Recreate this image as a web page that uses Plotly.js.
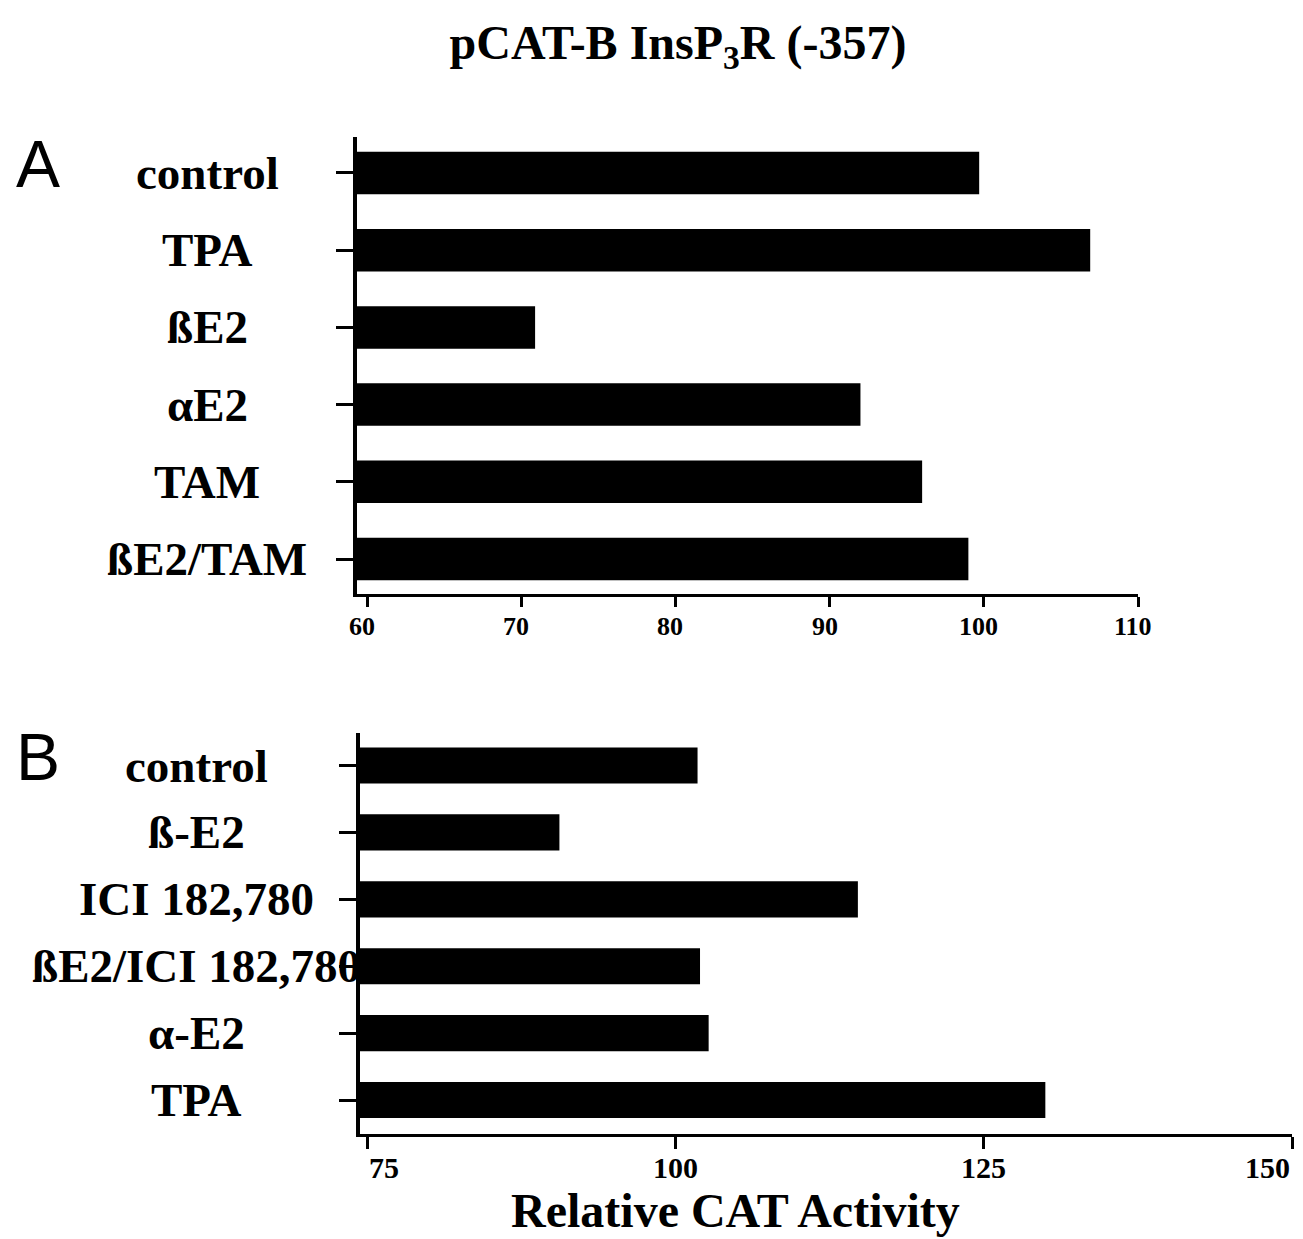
<!DOCTYPE html>
<html>
<head>
<meta charset="utf-8">
<script src="https://cdn.plot.ly/plotly-3.0.1.min.js"></script>
<style>
  html, body { margin: 0; padding: 0; background: #fff; }
  #chart { width: 1303px; height: 1239px; }
</style>
</head>
<body>
<div id="chart"></div>
<script>
// Panel A data
const catsA = ['control', 'TPA', 'ßE2', 'αE2', 'TAM', 'ßE2/TAM'];
const valsA = [99.7, 106.9, 70.9, 92.0, 96.0, 99.0];
const ticksA = [60, 70, 80, 90, 100, 110];

// Panel B data
const catsB = ['control', 'ß-E2', 'ICI 182,780', 'ßE2/ICI 182,780', 'α-E2', 'TPA'];
const valsB = [101.8, 90.6, 114.8, 102.0, 102.7, 130.0];
const ticksB = [75, 100, 125, 150];

const titleText = 'pCAT-B InsP<sub>3</sub>R (-357)';
const xTitleText = 'Relative CAT Activity';

const W = 1303, H = 1239;
const px = x => x / W;
const py = y => 1 - y / H;

const serif = 'Liberation Serif, Times New Roman, serif';
const sans = 'Liberation Sans, Arial, sans-serif';

const traces = [
  {
    type: 'bar', orientation: 'h',
    y: catsA, x: valsA,
    xaxis: 'x', yaxis: 'y',
    width: 0.55,
    marker: { color: '#000', line: { width: 0 } },
    hoverinfo: 'skip'
  },
  {
    type: 'bar', orientation: 'h',
    y: catsB, x: valsB,
    xaxis: 'x2', yaxis: 'y2',
    width: 0.54,
    marker: { color: '#000', line: { width: 0 } },
    hoverinfo: 'skip'
  }
];

const labelFont = { family: serif, size: 47, color: '#000', weight: 'bold' };
const annotations = [];
catsA.forEach(c => annotations.push({
  xref: 'paper', yref: 'y', x: px(207), y: c, text: c, showarrow: false,
  xanchor: 'center', yanchor: 'middle', font: labelFont
}));
catsB.forEach(c => annotations.push({
  xref: 'paper', yref: 'y2', x: px(196), y: c, text: c, showarrow: false,
  xanchor: 'center', yanchor: 'middle', font: labelFont
}));
// x tick labels, panel A
ticksA.forEach(t => annotations.push({
  xref: 'x', yref: 'paper', x: t, y: py(626), text: String(t), showarrow: false,
  xanchor: 'center', yanchor: 'middle', xshift: -5,
  font: { family: serif, size: 26, color: '#000', weight: 'bold' }
}));
// x tick labels, panel B
ticksB.forEach((t, i) => annotations.push({
  xref: 'x2', yref: 'paper', x: t, y: py(1167), text: String(t), showarrow: false,
  xanchor: i === 0 ? 'left' : (i === ticksB.length - 1 ? 'right' : 'center'),
  yanchor: 'middle',
  font: { family: serif, size: 30, color: '#000', weight: 'bold' }
}));
annotations.push({
  xref: 'paper', yref: 'paper', x: px(38), y: py(164), text: 'A', showarrow: false,
  xanchor: 'center', yanchor: 'middle',
  font: { family: sans, size: 66, color: '#000' }
});
annotations.push({
  xref: 'paper', yref: 'paper', x: px(38), y: py(757), text: 'B', showarrow: false,
  xanchor: 'center', yanchor: 'middle',
  font: { family: sans, size: 66, color: '#000' }
});
annotations.push({
  xref: 'paper', yref: 'paper', x: px(735), y: 0, text: xTitleText, showarrow: false,
  xanchor: 'center', yanchor: 'bottom',
  font: { family: serif, size: 48, color: '#000', weight: 'bold' }
});

const layout = {
  width: W, height: H,
  margin: { l: 0, r: 0, t: 0, b: 0, pad: 0 },
  paper_bgcolor: '#fff', plot_bgcolor: '#fff',
  showlegend: false,
  bargap: 0.45,
  title: {
    text: titleText,
    x: px(678), y: py(42), xref: 'paper', yref: 'paper',
    xanchor: 'center', yanchor: 'middle',
    font: { family: serif, size: 48, color: '#000', weight: 'bold' }
  },
  xaxis: {
    domain: [px(357), px(1138)],
    anchor: 'y',
    range: [59.35, 110],
    tickmode: 'array', tickvals: ticksA,
    ticks: 'outside', ticklen: 10, tickwidth: 3, tickcolor: '#000',
    showline: true, linecolor: '#000', linewidth: 3,
    showgrid: false, zeroline: false,
    showticklabels: false
  },
  yaxis: {
    domain: [py(594), py(137)],
    anchor: 'x',
    type: 'category',
    categoryorder: 'array', categoryarray: catsA,
    range: [5.453, -0.466],
    ticks: 'outside', ticklen: 17, tickwidth: 3, tickcolor: '#000',
    showline: true, linecolor: '#000', linewidth: 4,
    showgrid: false, zeroline: false,
    showticklabels: false
  },
  xaxis2: {
    domain: [px(360), px(1292)],
    anchor: 'y2',
    range: [74.43, 150],
    tickmode: 'array', tickvals: ticksB,
    ticks: 'outside', ticklen: 12, tickwidth: 3, tickcolor: '#000',
    showline: true, linecolor: '#000', linewidth: 3,
    showgrid: false, zeroline: false,
    showticklabels: false
  },
  yaxis2: {
    domain: [py(1134), py(733)],
    anchor: 'x2',
    type: 'category',
    categoryorder: 'array', categoryarray: catsB,
    range: [5.508, -0.486],
    ticks: 'outside', ticklen: 17, tickwidth: 3, tickcolor: '#000',
    showline: true, linecolor: '#000', linewidth: 4,
    showgrid: false, zeroline: false,
    showticklabels: false
  },
  annotations: annotations
};

Plotly.newPlot('chart', traces, layout, { displayModeBar: false, staticPlot: true });
</script>
</body>
</html>
